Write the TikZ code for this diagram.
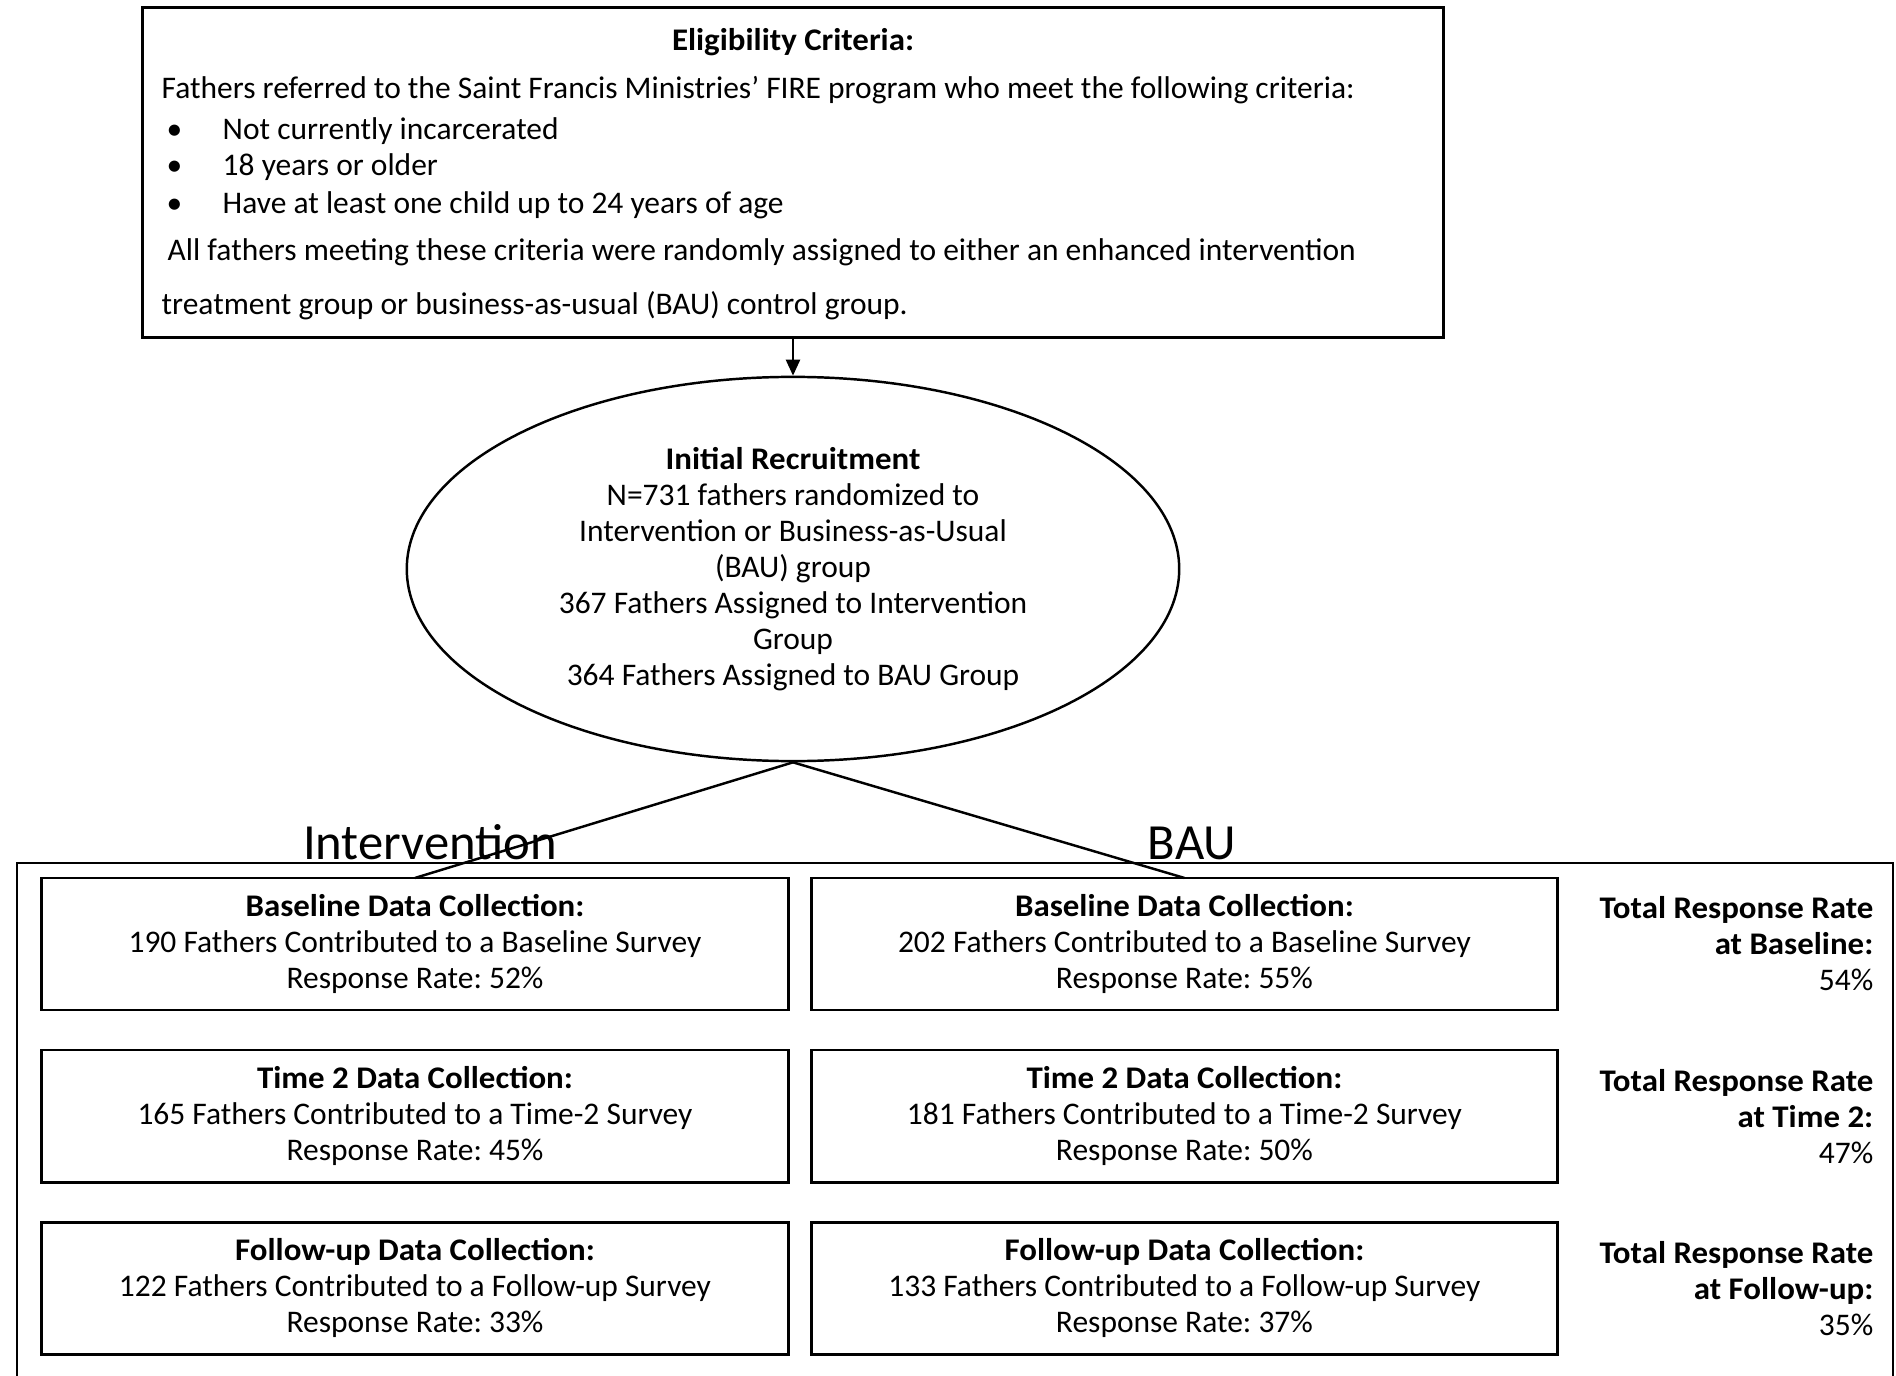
\documentclass[tikz,border=0pt]{standalone}
\usepackage{fontspec}
\setmainfont{Carlito}[BoldFeatures={FakeStretch=1.045}]
\usetikzlibrary{positioning,arrows.meta,shapes.geometric}
\frenchspacing
\newcommand{\flowfont}{\fontsize{8.95}{10.24}\selectfont}
\tikzset{
  txt/.style       ={font=\flowfont},
  critbox/.style   ={rectangle,draw,line width=0.8pt,minimum width=13cm,minimum height=3.29cm},
  recruitoval/.style={ellipse,draw,line width=0.7pt,txt,align=center,
                     minimum width=7.72cm,minimum height=3.84cm,inner sep=0pt},
  databox/.style   ={rectangle,draw,line width=0.8pt,txt,align=center,
                     minimum width=7.46cm,minimum height=1.32cm,outer sep=0pt},
  ratenote/.style  ={txt,align=right,anchor=east,inner sep=0pt},
  grouplbl/.style  ={font=\fontsize{14.4}{16}\selectfont,anchor=base,inner sep=0pt},
  flow/.style      ={-{Triangle[length=1.6mm,width=1.4mm]},line width=0.7pt},
  link/.style      ={line width=0.7pt},
}

\begin{document}
\begin{tikzpicture}[x=0.01cm,y=-0.01cm,node distance=4mm and 2.3mm]
  \useasboundingbox (0,0) rectangle (1896,1376);
  \node[critbox] (elig) at (793,172.5) {};
  \node[font=\flowfont\bfseries] (elighead) at (793,42) {Eligibility Criteria:};
  \node[txt,align=left,anchor=north west,inner sep=0pt] (eligbody) at (161,76)
    {Fathers referred to the Saint Francis Ministries' FIRE program who meet the following criteria:\\[1.4pt]
     \hspace*{0.05cm}\makebox[0.56cm][l]{\textbullet}Not currently incarcerated\\
     \hspace*{0.05cm}\makebox[0.56cm][l]{\textbullet}18 years or older\\[0.6pt]
     \hspace*{0.05cm}\makebox[0.56cm][l]{\textbullet}Have at least one child up to 24 years of age\\[3.1pt]
     \hspace*{0.06cm}All fathers meeting these criteria were randomly assigned to either an enhanced intervention\\[5.1pt]
     treatment group or business-as-usual (BAU) control group.};
  \node[recruitoval] (recruit) at (793,569)
    {\textbf{Initial Recruitment}\\N=731 fathers randomized to\\Intervention or Business-as-Usual\\(BAU) group\\
     367 Fathers Assigned to Intervention\\Group\\364 Fathers Assigned to BAU Group};

  % study arms
  \draw[link] (17,1376) |- (1893,863) -- (1893,1376);
  \node[grouplbl] (intlbl) at (430,859) {Intervention};
  \node[grouplbl] (baulbl) at (1192,859) {BAU};

  \node[databox] (intbase) at (415,944)
    {\textbf{Baseline Data Collection:}\\190 Fathers Contributed to a Baseline Survey\\Response Rate: 52\%};
  \node[databox,below=of intbase] (inttwo)
    {\textbf{Time 2 Data Collection:}\\165 Fathers Contributed to a Time-2 Survey\\Response Rate: 45\%};
  \node[databox,below=of inttwo] (intfollow)
    {\textbf{Follow-up Data Collection:}\\122 Fathers Contributed to a Follow-up Survey\\Response Rate: 33\%};
  \node[databox,right=of intbase] (baubase)
    {\textbf{Baseline Data Collection:}\\202 Fathers Contributed to a Baseline Survey\\Response Rate: 55\%};
  \node[databox,right=of inttwo] (bautwo)
    {\textbf{Time 2 Data Collection:}\\181 Fathers Contributed to a Time-2 Survey\\Response Rate: 50\%};
  \node[databox,right=of intfollow] (baufollow)
    {\textbf{Follow-up Data Collection:}\\133 Fathers Contributed to a Follow-up Survey\\Response Rate: 37\%};

  % totals
  \coordinate (ratecol) at (1874,0);
  \node[ratenote] (ratebase) at (baubase.east -| ratecol)
    {\textbf{Total Response Rate}\\\textbf{at Baseline:}\\54\%};
  \node[ratenote] (ratetwo) at (bautwo.east -| ratecol)
    {\textbf{Total Response Rate}\\\textbf{at Time 2:}\\47\%};
  \node[ratenote] (ratefollow) at (baufollow.east -| ratecol)
    {\textbf{Total Response Rate}\\\textbf{at Follow-up:}\\35\%};

  \draw[flow] (elig.south) -- (recruit.north);
  \draw[link] (recruit.south) -- (intbase.north);
  \draw[link] (recruit.south) -- (baubase.north);
\end{tikzpicture}
\end{document}
